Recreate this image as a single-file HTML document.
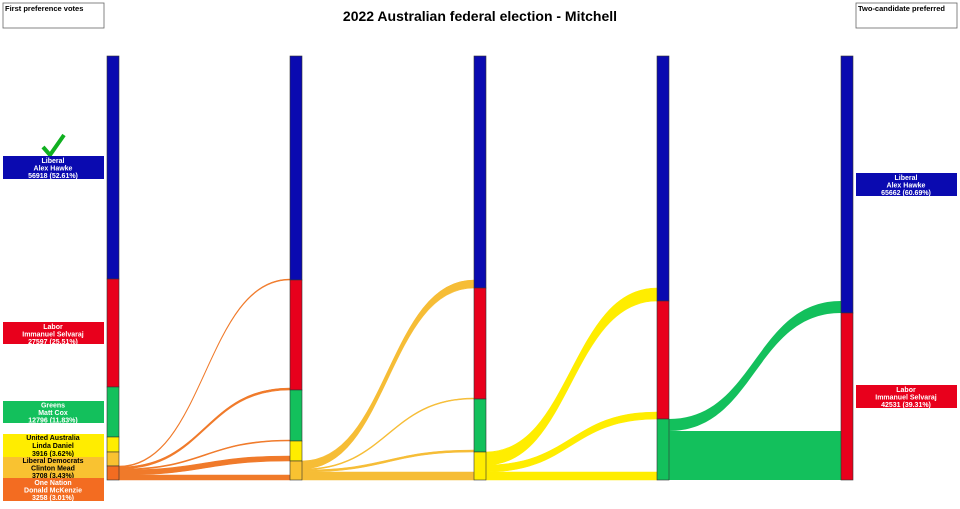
<!DOCTYPE html>
<html><head><meta charset="utf-8"><style>
body{margin:0;background:#fff;}
svg{display:block;font-family:"Liberation Sans",sans-serif;}
.l{font-size:7px;font-weight:bold;fill:#fff;text-anchor:middle;}
.d{fill:#000;}
</style></head><body>
<svg width="960" height="509" viewBox="0 0 960 509">
<rect x="3" y="3" width="101" height="25" fill="#fff" stroke="#666" stroke-width="0.8"/>
<text x="5" y="11" font-size="7.5" font-weight="bold">First preference votes</text>
<rect x="856" y="3" width="101" height="25" fill="#fff" stroke="#666" stroke-width="0.8"/>
<text x="858" y="11" font-size="7.5" font-weight="bold">Two-candidate preferred</text>
<text x="480" y="21" font-size="14" font-weight="bold" text-anchor="middle">2022 Australian federal election - Mitchell</text>

<!-- flows col1->col2 -->
<g fill="#f07a2a" stroke="#f07a2a" stroke-width="0.6">
<path d="M119,466 C205,466 205,279 290,279 L290,280 C205,280 205,467 119,467Z"/>
<path d="M119,467 C205,467 205,388 290,388 L290,390 C205,390 205,469 119,469Z"/>
<path d="M119,469 C205,469 205,440 290,440 L290,441 C205,441 205,470 119,470Z"/>
<path d="M119,470 C205,470 205,456 290,456 L290,461 C205,461 205,475 119,475Z"/>
<path d="M119,475 L290,475 L290,480 L119,480Z"/>
</g>
<!-- col2->col3 -->
<g fill="#f6bd36" stroke="#f6bd36" stroke-width="0.6">
<path d="M302,461 C388,461 388,280 474,280 L474,288 C388,288 388,469 302,469Z"/>
<path d="M302,469 C388,469 388,398 474,398 L474,399 C388,399 388,470 302,470Z"/>
<path d="M302,470 C388,470 388,450 474,450 L474,452 C388,452 388,472 302,472Z"/>
<path d="M302,472 L474,472 L474,480 L302,480Z"/>
</g>
<!-- col3->col4 -->
<g fill="#ffed00" stroke="#ffed00" stroke-width="0.6">
<path d="M486,452 C571,452 571,288 657,288 L657,301 C571,301 571,465 486,465Z"/>
<path d="M486,465 C571,465 571,412 657,412 L657,419 C571,419 571,472 486,472Z"/>
<path d="M486,472 L657,472 L657,480 L486,480Z"/>
</g>
<!-- col4->col5 -->
<g fill="#13c05c">
<path d="M669,419 C755,419 755,301 841,301 L841,313 C755,313 755,431 669,431Z"/>
<path d="M669,431 L841,431 L841,480 L669,480Z"/>
</g>

<g stroke="#333" stroke-width="0.6">
<!-- col1 -->
<rect x="107" y="56" width="12" height="223" fill="#0a0ab0"/>
<rect x="107" y="279" width="12" height="108" fill="#e8001c"/>
<rect x="107" y="387" width="12" height="50" fill="#13c05c"/>
<rect x="107" y="437" width="12" height="15" fill="#ffed00"/>
<rect x="107" y="452" width="12" height="14" fill="#f9c231"/>
<rect x="107" y="466" width="12" height="14" fill="#f36c21"/>
<!-- col2 -->
<rect x="290" y="56" width="12" height="224" fill="#0a0ab0"/>
<rect x="290" y="280" width="12" height="110" fill="#e8001c"/>
<rect x="290" y="390" width="12" height="51" fill="#13c05c"/>
<rect x="290" y="441" width="12" height="20" fill="#ffed00"/>
<rect x="290" y="461" width="12" height="19" fill="#f9c231"/>
<!-- col3 -->
<rect x="474" y="56" width="12" height="232" fill="#0a0ab0"/>
<rect x="474" y="288" width="12" height="111" fill="#e8001c"/>
<rect x="474" y="399" width="12" height="53" fill="#13c05c"/>
<rect x="474" y="452" width="12" height="28" fill="#ffed00"/>
<!-- col4 -->
<rect x="657" y="56" width="12" height="245" fill="#0a0ab0"/>
<rect x="657" y="301" width="12" height="118" fill="#e8001c"/>
<rect x="657" y="419" width="12" height="61" fill="#13c05c"/>
<!-- col5 -->
<rect x="841" y="56" width="12" height="257" fill="#0a0ab0"/>
<rect x="841" y="313" width="12" height="167" fill="#e8001c"/>
</g>

<!-- left labels -->
<path d="M43,147 L50,155 L64,135" fill="none" stroke="#10b020" stroke-width="4"/>
<rect x="3" y="156" width="101" height="23" fill="#0a0ab0"/>
<text class="l" x="53" y="163">Liberal</text><text class="l" x="53" y="170.5">Alex Hawke</text><text class="l" x="53" y="178">56918 (52.61%)</text>
<rect x="3" y="322" width="101" height="22" fill="#e8001c"/>
<text class="l" x="53" y="329">Labor</text><text class="l" x="53" y="336.5">Immanuel Selvaraj</text><text class="l" x="53" y="344">27597 (25.51%)</text>
<rect x="3" y="401" width="101" height="22" fill="#13c05c"/>
<text class="l" x="53" y="407.5">Greens</text><text class="l" x="53" y="415">Matt Cox</text><text class="l" x="53" y="422.5">12796 (11.83%)</text>
<rect x="3" y="434" width="101" height="23" fill="#ffed00"/>
<text class="l d" x="53" y="440">United Australia</text><text class="l d" x="53" y="448">Linda Daniel</text><text class="l d" x="53" y="456">3916 (3.62%)</text>
<rect x="3" y="457" width="101" height="21" fill="#f9c231"/>
<text class="l d" x="53" y="463">Liberal Democrats</text><text class="l d" x="53" y="470.5">Clinton Mead</text><text class="l d" x="53" y="478">3708 (3.43%)</text>
<rect x="3" y="478" width="101" height="23" fill="#f36c21"/>
<text class="l" x="53" y="485">One Nation</text><text class="l" x="53" y="492.5">Donald McKenzie</text><text class="l" x="53" y="500">3258 (3.01%)</text>

<!-- right labels -->
<rect x="856" y="173" width="101" height="23" fill="#0a0ab0"/>
<text class="l" x="906" y="180">Liberal</text><text class="l" x="906" y="187.5">Alex Hawke</text><text class="l" x="906" y="195">65662 (60.69%)</text>
<rect x="856" y="385" width="101" height="23" fill="#e8001c"/>
<text class="l" x="906" y="392">Labor</text><text class="l" x="906" y="399.5">Immanuel Selvaraj</text><text class="l" x="906" y="407">42531 (39.31%)</text>
</svg>
</body></html>
